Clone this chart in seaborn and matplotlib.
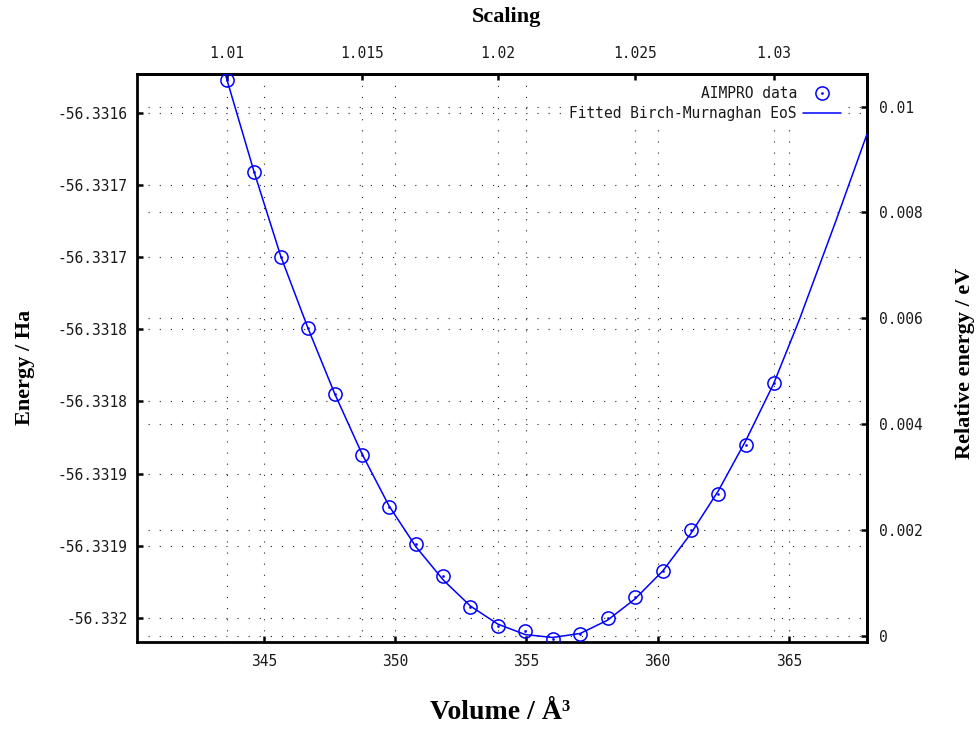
import numpy as np
import pandas as pd
import matplotlib
matplotlib.use("Agg")
import matplotlib.pyplot as plt
import seaborn as sns
from matplotlib.legend_handler import HandlerTuple

# ---------------- data ----------------
VOLUME = [343.60, 344.63, 345.65, 346.68, 347.70, 348.73, 349.77, 350.80,
          351.84, 352.87, 353.91, 354.96, 356.00, 357.05, 358.09, 359.14,
          360.20, 361.25, 362.31, 363.36, 364.42]
ENERGY = [-56.3315769, -56.3316406, -56.3316996, -56.3317493, -56.3317949,
          -56.3318373, -56.3318732, -56.3318991, -56.3319213, -56.3319426,
          -56.3319560, -56.3319593, -56.3319646, -56.3319616, -56.3319500,
          -56.3319357, -56.3319178, -56.3318894, -56.3318639, -56.3318299,
          -56.3317871]

FIT_VOLUME = [343.20, 343.60, 344.63, 345.65, 346.68, 347.70, 348.73, 349.77,
              350.80, 351.84, 352.87, 353.91, 354.96, 356.00, 357.05, 358.09,
              359.14, 360.20, 361.25, 362.31, 363.36, 364.42, 365.40, 366.80,
              367.96]
FIT_ENERGY = [-56.3315510, -56.3315769, -56.3316406, -56.3316994, -56.3317490,
              -56.3317946, -56.3318360, -56.3318725, -56.3319010, -56.3319240,
              -56.3319420, -56.3319545, -56.3319618, -56.3319638, -56.3319610,
              -56.3319518, -56.3319370, -56.3319175, -56.3318920, -56.3318620,
              -56.3318270, -56.3317875, -56.3317430, -56.3316740, -56.3316150]

X_TICKS = [345, 350, 355, 360, 365]
X_TICK_LABELS = ["345", "350", "355", "360", "365"]
Y_TICKS = [-56.33160, -56.33165, -56.33170, -56.33175, -56.33180,
           -56.33185, -56.33190, -56.33195]
Y_TICK_LABELS = ["-56.3316", "-56.3317", "-56.3317", "-56.3318", "-56.3318",
                 "-56.3319", "-56.3319", "-56.332"]
X2_TICKS = [1.01, 1.015, 1.02, 1.025, 1.03]
X2_TICK_LABELS = ["1.01", "1.015", "1.02", "1.025", "1.03"]
Y2_TICKS = [0.0, 0.002, 0.004, 0.006, 0.008, 0.01]
Y2_TICK_LABELS = ["0", "0.002", "0.004", "0.006", "0.008", "0.01"]

V0 = 333.5            # volume at scaling 1
E_REF = -56.3319628   # zero of relative energy (Ha)
HA_TO_EV = 27.2114
XLIM = (340.17, 367.96)
YLIM = (-56.3319667, -56.3315727)

BLUE = "#0000ff"


def v_to_s(v):
    return np.cbrt(np.asarray(v, dtype=float) / V0)


def s_to_v(s):
    return V0 * np.asarray(s, dtype=float) ** 3


def ha_to_ev(e):
    return (np.asarray(e, dtype=float) - E_REF) * HA_TO_EV


def ev_to_ha(e):
    return np.asarray(e, dtype=float) / HA_TO_EV + E_REF


# ---------------- style ----------------
sns.set_theme(style="white")
plt.rcParams['font.family'] = ['DejaVu Sans Mono', 'DejaVu Sans']

fig = plt.figure(figsize=(9.77, 7.29), dpi=100)
fig.patch.set_facecolor("white")
ax = fig.add_axes([0.1402, 0.1198, 0.7469, 0.7787])
ax.set_facecolor("white")

data = pd.DataFrame({"Volume": VOLUME, "Energy": ENERGY})
fit = pd.DataFrame({"Volume": FIT_VOLUME, "Energy": FIT_ENERGY})

sns.lineplot(data=fit, x="Volume", y="Energy", ax=ax, color=BLUE,
             linewidth=1.1, sort=False, legend=False, zorder=3)
sns.lineplot(data=data, x="Volume", y="Energy", ax=ax, linestyle="",
             marker="o", markersize=9.5, markerfacecolor="none",
             markeredgecolor=BLUE, markeredgewidth=1.1, color=BLUE,
             sort=False, legend=False, zorder=4)
sns.lineplot(data=data, x="Volume", y="Energy", ax=ax, linestyle="",
             marker="o", markersize=1.6, markerfacecolor=BLUE,
             markeredgecolor=BLUE, markeredgewidth=0.3, color=BLUE,
             sort=False, legend=False, zorder=5)
line_fit, line_circ, line_dot = ax.lines[0], ax.lines[1], ax.lines[2]

ax.set_xlim(*XLIM)
ax.set_ylim(*YLIM)
ax.set_xticks(X_TICKS, labels=X_TICK_LABELS)
ax.set_yticks(Y_TICKS, labels=Y_TICK_LABELS)

grid_kw = dict(color="#222222", linewidth=0.8, linestyle=(0, (1, 9)), zorder=1)
ax.grid(True, axis="both", **grid_kw)
for t in X2_TICKS:
    ax.axvline(float(s_to_v(t)), **grid_kw)
for t in Y2_TICKS:
    ax.axhline(float(ev_to_ha(t)), **grid_kw)

tick_kw = dict(direction="in", length=4.5, width=1.8, colors="black",
               labelsize=10.5, labelcolor="#1a1a1a")
ax.tick_params(axis="x", bottom=True, top=False, pad=9, **tick_kw)
ax.tick_params(axis="y", left=True, right=False, pad=7, **tick_kw)

for sp in ax.spines.values():
    sp.set_visible(True)
    sp.set_color("black")
    sp.set_linewidth(2.0)

# secondary axes
secx = ax.secondary_xaxis("top", functions=(v_to_s, s_to_v))
secx.set_ticks(X2_TICKS, labels=X2_TICK_LABELS)
secx.tick_params(axis="x", pad=9, **tick_kw)
secy = ax.secondary_yaxis("right", functions=(ha_to_ev, ev_to_ha))
secy.set_ticks(Y2_TICKS, labels=Y2_TICK_LABELS)
secy.tick_params(axis="y", pad=9, **tick_kw)
for sec in (secx, secy):
    for sp in sec.spines.values():
        sp.set_color("black")
        sp.set_linewidth(2.0)

# axis labels
lab_font = dict(family=["Liberation Serif", "DejaVu Serif"], weight="bold",
                color="black")
ax.set_xlabel("Volume / Å³", fontsize=20, **lab_font)
ax.xaxis.set_label_coords(0.497, -0.1256)
ax.xaxis.label.set_verticalalignment("center")

ax.set_ylabel("Energy / Ha", fontsize=16, **lab_font)
ax.yaxis.set_label_coords(-0.1535, 0.483)
ax.yaxis.label.set_verticalalignment("center")

secx.set_xlabel("Scaling", fontsize=16, **lab_font)
secx.xaxis.set_label_coords(0.507, 1.100, transform=ax.transAxes)
secx.xaxis.label.set_verticalalignment("center")

secy.set_ylabel("Relative energy / eV", fontsize=16, **lab_font)
secy.yaxis.set_label_coords(1.1347, 0.491, transform=ax.transAxes)
secy.yaxis.label.set_verticalalignment("center")

# legend
leg = ax.legend(handles=[(line_circ, line_dot), line_fit],
                labels=["AIMPRO data", "Fitted Birch-Murnaghan EoS"],
                handler_map={tuple: HandlerTuple(ndivide=1, pad=0)},
                loc="upper right", bbox_to_anchor=(842 / 977, 1 - 85 / 729),
                bbox_transform=fig.transFigure, frameon=True,
                facecolor="white", edgecolor="none", framealpha=1.0,
                fancybox=False,
                markerfirst=False, handlelength=2.55, handletextpad=0.45,
                labelspacing=0.3, borderpad=0.1, borderaxespad=0,
                prop={"family": "DejaVu Sans Mono", "size": 10.5})
leg.set_zorder(6)
for txt in leg.get_texts():
    txt.set_color("#1a1a1a")

fig.savefig("out.png", dpi=100, facecolor="white")
